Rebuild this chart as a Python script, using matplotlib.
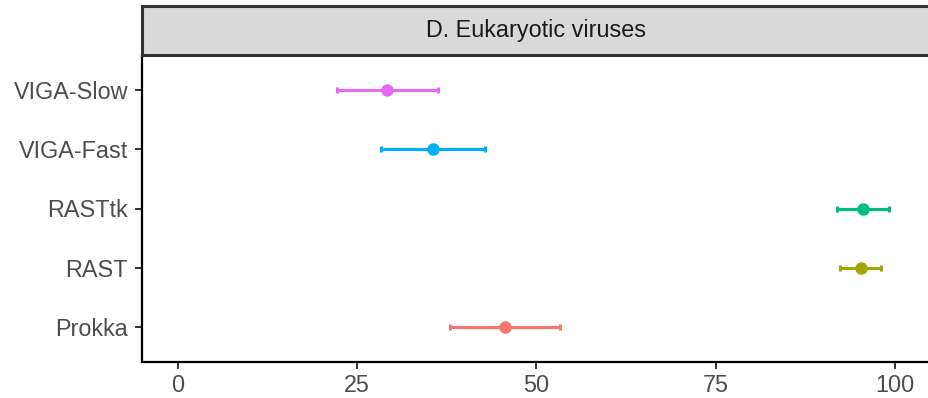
import matplotlib
matplotlib.use("Agg")
import matplotlib.pyplot as plt
from matplotlib.patches import Rectangle

plt.rcParams['font.family'] = ['Liberation Sans', 'DejaVu Sans']

tools = ["Prokka", "RAST", "RASTtk", "VIGA-Fast", "VIGA-Slow"]
means = [45.6, 95.2, 95.5, 35.6, 29.2]
lower = [38.0, 92.3, 91.9, 28.3, 22.2]
upper = [53.3, 98.0, 99.1, 42.8, 36.3]
colors = ["#F8766D", "#A3A500", "#00BF7D", "#00B0F6", "#E76BF3"]
xticks = [0, 25, 50, 75, 100]
facet_title = "D. Eukaryotic viruses"

W, H = 929, 398
fig = plt.figure(figsize=(W / 100, H / 100), dpi=100)
left, right = 142 / W, 931 / W
bottom, top = (H - 362) / H, (H - 55) / H
ax = fig.add_axes([left, bottom, right - left, top - bottom])

ypos = list(range(1, len(tools) + 1))
for y, m, lo, hi, c in zip(ypos, means, lower, upper, colors):
    ax.errorbar([m], [y], xerr=[[m - lo], [hi - m]], fmt='o', color=c,
                ecolor=c, elinewidth=2.2, capsize=2.5, capthick=2.2,
                markersize=8, zorder=3)

ax.set_xlim(-5, 105)
ax.set_ylim(0.4, len(tools) + 0.6)
ax.set_yticks(ypos)
ax.set_yticklabels(tools)
ax.set_xticks(xticks)
ax.set_xticklabels([str(t) for t in xticks])
for s in ['top', 'right']:
    ax.spines[s].set_visible(False)
for s in ['left', 'bottom']:
    ax.spines[s].set_linewidth(1.6)
    ax.spines[s].set_color('black')
ax.tick_params(axis='both', length=5, width=1.4, color='#333333',
               labelsize=16.8, labelcolor='#4D4D4D', pad=3.5)
ax.tick_params(axis='y', pad=5)

# facet strip
sax = fig.add_axes([left, (H - 55) / H, right - left, (55 - 6) / H])
sax.set_xlim(0, 1)
sax.set_ylim(0, 1)
sax.axis('off')
sax.add_patch(Rectangle((0, 0), 1, 1, transform=sax.transAxes,
                        facecolor='#D9D9D9', edgecolor='#333333',
                        linewidth=2.2, clip_on=False))
sax.text(0.5, 0.5, facet_title, ha='center', va='center', fontsize=16.8,
         color='#1A1A1A', transform=sax.transAxes)

fig.savefig("out.png", dpi=100)
